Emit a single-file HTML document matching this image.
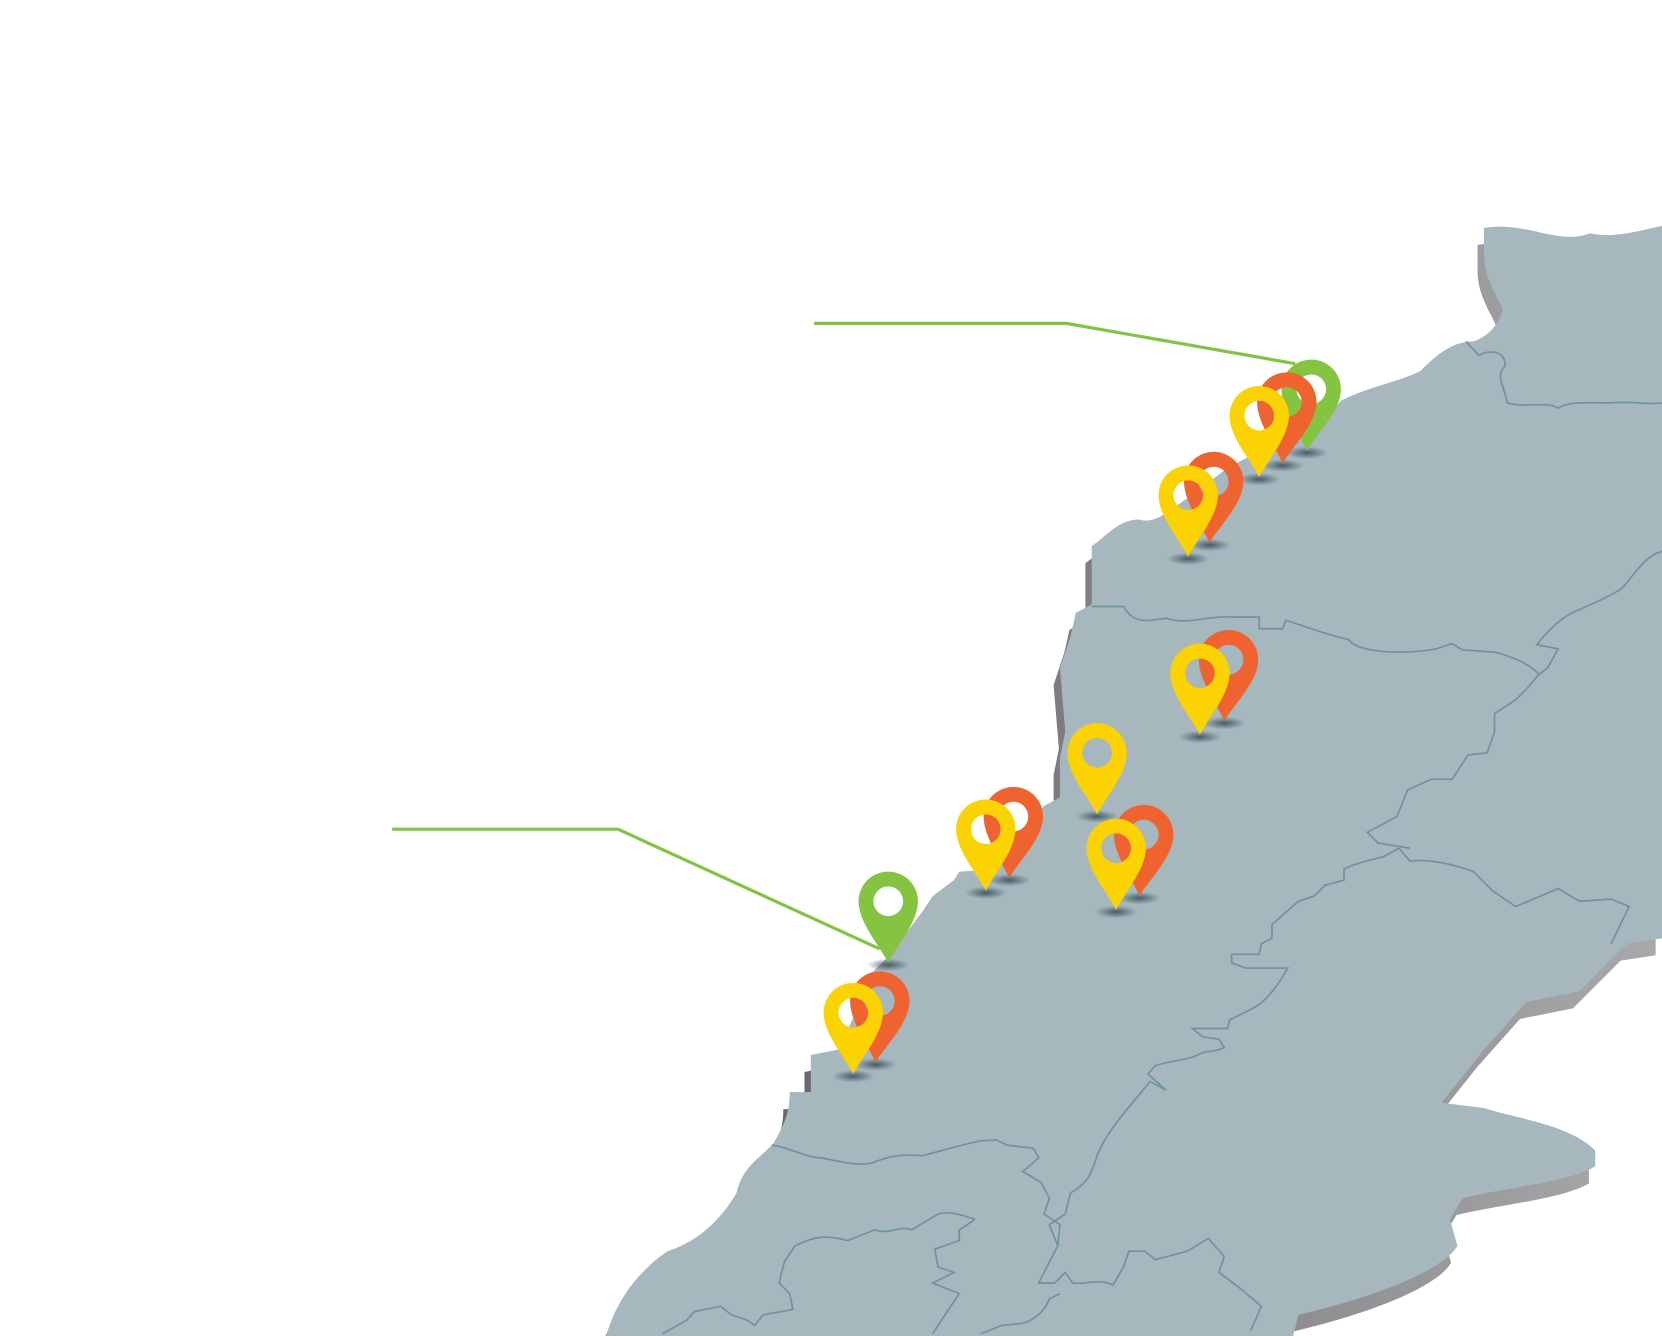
<!DOCTYPE html>
<html><head><meta charset="utf-8"><style>
html,body{margin:0;padding:0;background:#fff;width:1662px;height:1336px;overflow:hidden}
svg{display:block}
</style></head><body>
<svg width="1662" height="1336" viewBox="0 0 1568 1260" preserveAspectRatio="none" xmlns="http://www.w3.org/2000/svg">
<defs>
<linearGradient id="sh" x1="0" y1="0" x2="1" y2="0">
<stop offset="0" stop-color="#5d5a5e"/><stop offset="1" stop-color="#a9a8ab"/>
</linearGradient>
<radialGradient id="ps"><stop offset="0" stop-color="#2e4652" stop-opacity=".8"/><stop offset="1" stop-color="#2e4652" stop-opacity="0"/></radialGradient>
<path id="pin" fill-rule="evenodd" d="M0,0 C-8,-16 -28,-38 -28,-58 A28,28 0 1 1 28,-58 C28,-38 8,-16 0,0 Z M-14,-58 A14,14 0 1 0 14,-58 A14,14 0 1 0 -14,-58 Z"/>
<path id="land" d="M1400,215 C1440,208 1470,232 1500,220 C1520,225 1545,218 1568,213 L1568,885 L1535,890 L1490,935 L1440,945 L1400,990 L1360,1040 L1400,1045 C1430,1055 1480,1060 1505,1085 L1505,1100 C1480,1115 1420,1120 1380,1130 L1368,1150 L1375,1175 C1360,1200 1290,1225 1225,1240 L1220,1260 L572,1260 C580,1230 600,1200 630,1180 C660,1170 680,1150 695,1125 C700,1100 720,1090 730,1078 C740,1060 745,1050 745,1030 L765,1030 L765,995 L790,990 L805,960 L820,920 L840,900 L870,860 L880,845 L900,830 L905,822 L940,820 L985,760 L1000,752 L1000,715 L1005,690 L1000,630 L1010,600 L1015,578 L1030,570 L1030,515 C1045,505 1055,490 1075,490 C1090,495 1105,480 1120,470 L1160,440 L1200,420 C1230,410 1250,395 1265,378 C1290,365 1320,360 1340,350 C1355,335 1370,322 1390,322 C1410,315 1415,300 1418,292 C1410,275 1400,260 1400,240 Z"/>
</defs>
<g transform="translate(-6,16)" fill="url(#sh)"><use href="#land"/></g>
<use href="#land" fill="#a7b7be"/>
<g fill="none" stroke="#6f939f" stroke-width="1.6">
<path d="M1383,322 L1395,335 C1405,330 1420,330 1420,345 C1410,355 1420,365 1422,380 C1440,385 1460,378 1470,385 C1480,378 1500,380 1520,380 C1540,378 1555,382 1568,380"/>
<path d="M1030,572 L1060,572 C1070,590 1085,585 1100,583 C1120,590 1140,580 1165,582 L1188,582 L1188,593 L1210,593 L1213,585 C1230,590 1255,600 1272,603 C1280,615 1320,618 1355,612 L1370,607 L1380,613 L1410,615 C1430,620 1445,628 1452,636 L1440,650 L1430,660 L1410,673 L1410,690 L1403,710 L1385,712 L1370,735 L1350,735 L1328,745 L1318,770 L1290,785 L1300,795 L1330,800"/>
<path d="M1568,520 C1550,525 1540,545 1530,555 C1515,565 1500,570 1490,575 C1475,580 1460,595 1450,608 L1470,612 L1460,630 L1452,636"/>
<path d="M1320,800 L1330,812 C1350,810 1370,815 1390,822 L1408,840 L1430,855 L1470,838 L1490,850 L1520,848 L1537,855 L1520,890"/>
<path d="M1320,800 L1305,808 C1290,812 1275,815 1268,820 L1268,830 L1250,835 L1240,845 L1225,850 L1200,872 L1200,885 L1190,890 L1188,900 L1162,900 L1162,908 L1175,913 L1215,913 C1205,930 1195,945 1180,952 L1160,962 L1158,970 L1125,970 L1135,978 L1150,980 L1155,988 C1145,993 1138,990 1130,995 C1120,1000 1105,1000 1090,1005 L1083,1013 L1100,1028 L1085,1020 C1065,1045 1045,1065 1035,1090 C1030,1105 1028,1115 1010,1125 L1005,1145 L990,1155 L998,1175 L985,1200 L980,1210 L995,1210 L1005,1200 L1012,1210 C1025,1212 1035,1205 1050,1212 L1060,1195 L1065,1180 L1080,1180 L1090,1188 L1120,1180 L1140,1168 L1155,1185 L1150,1200 L1170,1215 L1190,1232 L1180,1255"/>
<path d="M728,1080 C745,1082 760,1092 775,1092 C790,1095 810,1100 822,1097 C835,1092 845,1088 870,1090 C890,1085 905,1080 925,1076 L940,1075 L950,1080 L975,1083 L980,1092 L965,1105 L982,1115 L990,1130 L985,1145 L1000,1155 L998,1175"/>
<path d="M920,1150 L905,1160 L905,1170 L882,1178 L885,1195 L900,1200 L880,1210 L905,1220 L895,1235 L885,1250 L880,1258"/>
<path d="M920,1150 C905,1145 895,1142 885,1145 L860,1160 C850,1155 840,1165 825,1160 L812,1165 L800,1170 C780,1165 770,1165 750,1175 L740,1190 L735,1210 L745,1220 L748,1235 L720,1240 L712,1250 L705,1245 L690,1240 L680,1232 L655,1237 L648,1245 L625,1258"/>
<path d="M925,1258 L945,1250 L965,1248 C975,1245 985,1238 990,1225 L1000,1220"/>
</g>
<g fill="none" stroke="#82c341" stroke-width="3">
<polyline points="768,305 1006,305 1222,343"/>
<polyline points="370,782 583,782 830,895"/>
</g>
<g>
<g transform="translate(1233,425)"><ellipse cx="0" cy="2" rx="20" ry="6" fill="url(#ps)"/><use href="#pin" fill="#84c441" transform="rotate(4)"/></g>
<g transform="translate(1210,437)"><ellipse cx="0" cy="2" rx="20" ry="6" fill="url(#ps)"/><use href="#pin" fill="#ef6330" transform="rotate(4)"/></g>
<g transform="translate(1188,450)"><ellipse cx="0" cy="2" rx="20" ry="6" fill="url(#ps)"/><use href="#pin" fill="#fbd203"/></g>
<g transform="translate(1141,512)"><ellipse cx="0" cy="2" rx="20" ry="6" fill="url(#ps)"/><use href="#pin" fill="#ef6330" transform="rotate(4)"/></g>
<g transform="translate(1121,525)"><ellipse cx="0" cy="2" rx="20" ry="6" fill="url(#ps)"/><use href="#pin" fill="#fbd203"/></g>
<g transform="translate(1155,680)"><ellipse cx="0" cy="2" rx="20" ry="6" fill="url(#ps)"/><use href="#pin" fill="#ef6330" transform="rotate(4)"/></g>
<g transform="translate(1132,693)"><ellipse cx="0" cy="2" rx="20" ry="6" fill="url(#ps)"/><use href="#pin" fill="#fbd203"/></g>
<g transform="translate(1035,768)"><ellipse cx="0" cy="2" rx="20" ry="6" fill="url(#ps)"/><use href="#pin" fill="#fbd203"/></g>
<g transform="translate(952,828)"><ellipse cx="0" cy="2" rx="20" ry="6" fill="url(#ps)"/><use href="#pin" fill="#ef6330" transform="rotate(4)"/></g>
<g transform="translate(930,840)"><ellipse cx="0" cy="2" rx="20" ry="6" fill="url(#ps)"/><use href="#pin" fill="#fbd203"/></g>
<g transform="translate(1075,845)"><ellipse cx="0" cy="2" rx="20" ry="6" fill="url(#ps)"/><use href="#pin" fill="#ef6330" transform="rotate(4)"/></g>
<g transform="translate(1053,858)"><ellipse cx="0" cy="2" rx="20" ry="6" fill="url(#ps)"/><use href="#pin" fill="#fbd203"/></g>
<g transform="translate(838,908)"><ellipse cx="0" cy="2" rx="20" ry="6" fill="url(#ps)"/><use href="#pin" fill="#84c441"/></g>
<g transform="translate(826,1002)"><ellipse cx="0" cy="2" rx="20" ry="6" fill="url(#ps)"/><use href="#pin" fill="#ef6330" transform="rotate(4)"/></g>
<g transform="translate(805,1013)"><ellipse cx="0" cy="2" rx="20" ry="6" fill="url(#ps)"/><use href="#pin" fill="#fbd203"/></g>
</g>
</svg>
</body></html>
